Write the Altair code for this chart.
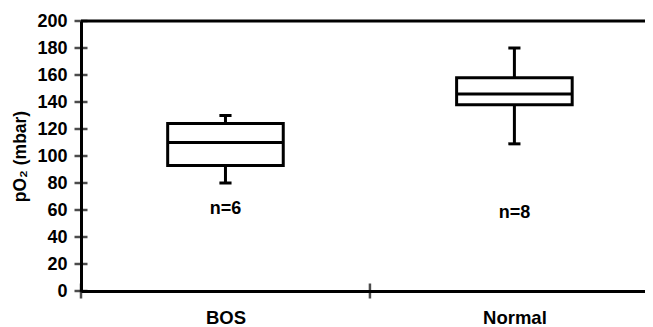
import altair as alt
import pandas as pd

# ---- data ----
groups = ["BOS", "Normal"]
whisker_low = [80, 109]
q1 = [93, 138]
median = [110, 146]
q3 = [124, 158]
whisker_high = [130, 180]
n_labels = ["n=6", "n=8"]
n_label_y = [61, 57.5]
y_ticks = [0, 20, 40, 60, 80, 100, 120, 140, 160, 180, 200]
x_boundaries = [0, 1]

FONT = "Liberation Sans"
BOX_HALF = 0.2
CAP_HALF = 0.021

centers = [i + 0.5 for i in range(len(groups))]
df = pd.DataFrame({
    "group": groups,
    "x": centers,
    "x_lo": [c - BOX_HALF for c in centers],
    "x_hi": [c + BOX_HALF for c in centers],
    "c_lo": [c - CAP_HALF for c in centers],
    "c_hi": [c + CAP_HALF for c in centers],
    "wl": whisker_low, "q1": q1, "med": median, "q3": q3, "wh": whisker_high,
    "n": n_labels, "ny": n_label_y,
})

xs = alt.Scale(domain=[0, 1.952], nice=False, zero=False)
ys = alt.Scale(domain=[0, 200], nice=False)

x_axis = alt.Axis(
    values=centers, labelExpr="datum.value < 1 ? 'BOS' : 'Normal'",
    ticks=False, tickSize=0, grid=False, domainColor="black", domainWidth=3,
    labelFont=FONT, labelFontWeight="bold", labelFontSize=18.5, labelColor="black",
    labelBaseline="alphabetic", labelPadding=32, labelOverlap=False, title=None,
)
y_axis = alt.Axis(
    values=y_ticks, tickCount=len(y_ticks), ticks=False, tickSize=0, grid=False,
    labelOverlap=False, labelSeparation=0, labelBound=False, labelFlush=False,
    domainColor="black", domainWidth=3,
    labelFont=FONT, labelFontWeight="bold", labelFontSize=18, labelColor="black",
    labelPadding=14, title="pO₂ (mbar)", titleFont=FONT, titleFontWeight="bold",
    titleFontSize=17.5, titleColor="black", titlePadding=7,
)


def X(f):
    return alt.X(f, type="quantitative", scale=xs, axis=x_axis)


def Y(f):
    return alt.Y(f, type="quantitative", scale=ys, axis=y_axis)


base = alt.Chart(df)
LINE = dict(color="black", strokeWidth=3)

whisk_up = base.mark_rule(**LINE).encode(x=X("x"), y=Y("q3"), y2="wh:Q")
whisk_dn = base.mark_rule(**LINE).encode(x=X("x"), y=Y("wl"), y2="q1:Q")
cap_up = base.mark_rule(**LINE).encode(x=X("c_lo"), x2="c_hi:Q", y=Y("wh"))
cap_dn = base.mark_rule(**LINE).encode(x=X("c_lo"), x2="c_hi:Q", y=Y("wl"))
box = base.mark_rect(fill="white", stroke="black", strokeWidth=3).encode(
    x=X("x_lo"), x2="x_hi:Q", y=Y("q1"), y2="q3:Q"
)
med = base.mark_rule(**LINE).encode(x=X("x_lo"), x2="x_hi:Q", y=Y("med"))
ntext = base.mark_text(font=FONT, fontWeight="bold", fontSize=18, color="black",
                       baseline="middle").encode(x=X("x"), y=Y("ny"), text="n:N")

top_df = pd.DataFrame({"x0": [0], "x1": [1.952], "y": [200]})
top_line = alt.Chart(top_df).mark_rule(**LINE).encode(x=X("x0"), x2="x1:Q", y=Y("y"))

yt_df = pd.DataFrame({"y": y_ticks, "x": [0] * len(y_ticks)})
ytick = alt.Chart(yt_df).mark_tick(orient="horizontal", size=13, thickness=2.5,
                                    color="black").encode(x=X("x"), y=Y("y"))
xt_df = pd.DataFrame({"x": x_boundaries, "y": [0] * len(x_boundaries)})
xtick = alt.Chart(xt_df).mark_tick(orient="vertical", size=15, thickness=2.5,
                                    color="black").encode(x=X("x"), y=Y("y"))

chart = alt.layer(
    whisk_up, whisk_dn, cap_up, cap_dn, box, med, ntext, top_line, ytick, xtick
).properties(
    width=564, height=270,
    autosize=alt.AutoSizeParams(type="none"),
    padding={"left": 73, "top": 13, "right": 0, "bottom": 36},
).configure_view(stroke=None).configure_axis(
    labelOverlap=False
).configure(background="white")

chart.save("out.html", embed_options={"renderer": "svg", "actions": False})
